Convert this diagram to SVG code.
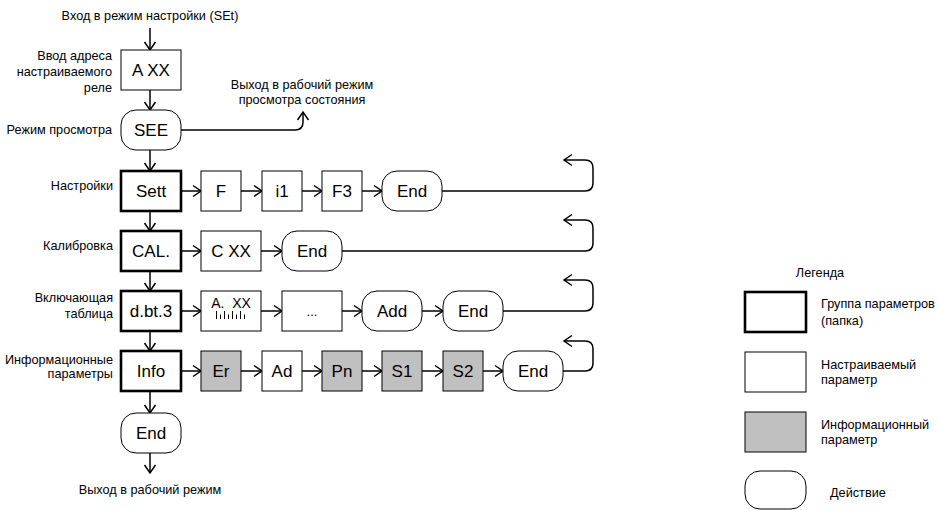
<svg xmlns="http://www.w3.org/2000/svg" width="938" height="510" viewBox="0 0 938 510">
<style>
  text { font-family: "Liberation Sans", Arial, sans-serif; fill: #000; }
  .lbl { font-size: 12.7px; }
  .lr { font-size: 12.7px; text-anchor: end; }
  .nt { font-size: 17px; text-anchor: middle; dominant-baseline: central; }
  .box { fill: #fff; stroke: #000; stroke-width: 1; }
  .grp { fill: #fff; stroke: #000; stroke-width: 2.6; }
  .inf { fill: #c0c0c0; stroke: #000; stroke-width: 1; }
  .act { fill: #fff; stroke: #000; stroke-width: 1; }
  .con { fill: none; stroke: #000; stroke-width: 1.5; marker-end: url(#arr); }
</style>
<defs>
  <marker id="arr" viewBox="-10 -7 12 14" refX="0" refY="0" markerWidth="12" markerHeight="14" markerUnits="userSpaceOnUse" orient="auto">
    <path d="M-8,-5.5 L0,0 L-8,5.5" fill="none" stroke="#000" stroke-width="1.5"/>
  </marker>
</defs>
<rect width="938" height="510" fill="#fff"/>

<text class="lbl" x="150" y="20" text-anchor="middle">Вход в режим настройки (SEt)</text>
<text class="lbl" x="150" y="494" text-anchor="middle">Выход в рабочий режим</text>
<text class="lbl" x="302" y="89" text-anchor="middle">Выход в рабочий режим</text>
<text class="lbl" x="302" y="104" text-anchor="middle">просмотра состояния</text>

<text class="lr" x="112" y="60">Ввод адреса</text>
<text class="lr" x="112" y="76">настраиваемого</text>
<text class="lr" x="112" y="92">реле</text>
<text class="lr" x="112" y="134">Режим просмотра</text>
<text class="lr" x="113" y="190">Настройки</text>
<text class="lr" x="113" y="250">Калибровка</text>
<text class="lr" x="113" y="302">Включающая</text>
<text class="lr" x="113" y="318">таблица</text>
<text class="lr" x="113" y="364">Информационные</text>
<text class="lr" x="113" y="378">параметры</text>

<g id="connectors">
  <path class="con" d="M150,28 V50"/>
  <path class="con" d="M150,90 V110"/>
  <path class="con" d="M150,150 V171"/>
  <path class="con" d="M150,211 V231"/>
  <path class="con" d="M150,271 V291"/>
  <path class="con" d="M150,331 V351"/>
  <path class="con" d="M150,391 V413"/>
  <path class="con" d="M150,453 V473"/>
  <path class="con" d="M181,130 H295 Q303,130 303,122 V112"/>
  <path class="con" d="M181,191 H201"/>
  <path class="con" d="M241,191 H262"/>
  <path class="con" d="M302,191 H322"/>
  <path class="con" d="M362,191 H382"/>
  <path class="con" d="M442,191 H585 Q593,191 593,183 V168 Q593,160 585,160 H564"/>
  <path class="con" d="M181,251 H201"/>
  <path class="con" d="M261,251 H282"/>
  <path class="con" d="M342,251 H585 Q593,251 593,243 V228 Q593,220 585,220 H564"/>
  <path class="con" d="M181,311 H201"/>
  <path class="con" d="M261,311 H282"/>
  <path class="con" d="M342,311 H362"/>
  <path class="con" d="M422,311 H443"/>
  <path class="con" d="M503,311 H585 Q593,311 593,303 V288 Q593,280 585,280 H564"/>
  <path class="con" d="M181,371 H201"/>
  <path class="con" d="M241,371 H262"/>
  <path class="con" d="M302,371 H322"/>
  <path class="con" d="M362,371 H382"/>
  <path class="con" d="M422,371 H443"/>
  <path class="con" d="M483,371 H503"/>
  <path class="con" d="M563,371 H585 Q593,371 593,363 V349 Q593,341 585,341 H564"/>
</g>

<g id="node-axx"><rect class="box" x="121" y="50" width="60" height="40"/><text class="nt" x="151" y="70">A XX</text></g>
<g id="node-see"><rect class="act" x="121" y="110" width="60" height="40" rx="15"/><text class="nt" x="151" y="130">SEE</text></g>
<g id="node-sett"><rect class="grp" x="121" y="171" width="60" height="40"/><text class="nt" x="151" y="191">Sett</text></g>
<g id="node-cal"><rect class="grp" x="121" y="231" width="60" height="40"/><text class="nt" x="151" y="251">CAL.</text></g>
<g id="node-dbt3"><rect class="grp" x="121" y="291" width="60" height="40"/><text class="nt" x="151" y="311">d.bt.3</text></g>
<g id="node-info"><rect class="grp" x="121" y="351" width="60" height="40"/><text class="nt" x="151" y="371">Info</text></g>
<g id="node-end-main"><rect class="act" x="121" y="413" width="60" height="40" rx="15"/><text class="nt" x="151" y="433">End</text></g>

<g id="node-f"><rect class="box" x="201" y="171" width="40" height="40"/><text class="nt" x="221" y="191">F</text></g>
<g id="node-i1"><rect class="box" x="262" y="171" width="40" height="40"/><text class="nt" x="282" y="191">i1</text></g>
<g id="node-f3"><rect class="box" x="322" y="171" width="40" height="40"/><text class="nt" x="342" y="191">F3</text></g>
<g id="node-end1"><rect class="act" x="382" y="171" width="60" height="40" rx="15"/><text class="nt" x="412" y="191">End</text></g>

<g id="node-cxx"><rect class="box" x="201" y="231" width="60" height="40"/><text class="nt" x="231" y="251">C XX</text></g>
<g id="node-end2"><rect class="act" x="282" y="231" width="60" height="40" rx="15"/><text class="nt" x="312" y="251">End</text></g>

<g id="node-axx-table"><rect class="box" x="201" y="291" width="60" height="40"/>
  <text x="231" y="308" font-size="14" text-anchor="middle" xml:space="preserve">A.  XX</text>
  <g stroke="#000" stroke-width="1">
    <line x1="216.5" y1="311" x2="216.5" y2="319"/><line x1="220.5" y1="314.5" x2="220.5" y2="319"/>
    <line x1="224.5" y1="311" x2="224.5" y2="319"/><line x1="228.5" y1="314.5" x2="228.5" y2="319"/>
    <line x1="232.5" y1="311" x2="232.5" y2="319"/><line x1="236.5" y1="314.5" x2="236.5" y2="319"/>
    <line x1="240.5" y1="311" x2="240.5" y2="319"/><line x1="244.5" y1="314.5" x2="244.5" y2="319"/>
  </g>
</g>
<g id="node-dots"><rect class="box" x="282" y="291" width="60" height="40"/><text x="312" y="316" font-size="13" text-anchor="middle">...</text></g>
<g id="node-add"><rect class="act" x="362" y="291" width="60" height="40" rx="15"/><text class="nt" x="392" y="311">Add</text></g>
<g id="node-end3"><rect class="act" x="443" y="291" width="60" height="40" rx="15"/><text class="nt" x="473" y="311">End</text></g>

<g id="node-er"><rect class="inf" x="201" y="351" width="40" height="40"/><text class="nt" x="221" y="371">Er</text></g>
<g id="node-ad"><rect class="box" x="262" y="351" width="40" height="40"/><text class="nt" x="282" y="371">Ad</text></g>
<g id="node-pn"><rect class="inf" x="322" y="351" width="40" height="40"/><text class="nt" x="342" y="371">Pn</text></g>
<g id="node-s1"><rect class="inf" x="382" y="351" width="40" height="40"/><text class="nt" x="402" y="371">S1</text></g>
<g id="node-s2"><rect class="inf" x="443" y="351" width="40" height="40"/><text class="nt" x="463" y="371">S2</text></g>
<g id="node-end4"><rect class="act" x="503" y="351" width="60" height="40" rx="15"/><text class="nt" x="533" y="371">End</text></g>

<g id="legend">
  <text class="lbl" x="820" y="277" text-anchor="middle">Легенда</text>
  <rect class="grp" x="745" y="292" width="61" height="40"/>
  <text class="lbl" x="821" y="308">Группа параметров</text>
  <text class="lbl" x="821" y="325">(папка)</text>
  <rect class="box" x="745" y="352" width="61" height="40"/>
  <text class="lbl" x="821" y="369">Настраиваемый</text>
  <text class="lbl" x="821" y="384">параметр</text>
  <rect class="inf" x="745" y="412" width="61" height="40"/>
  <text class="lbl" x="821" y="429">Информационный</text>
  <text class="lbl" x="821" y="444">параметр</text>
  <rect class="act" x="745" y="471" width="61" height="38" rx="15"/>
  <text class="lbl" x="830" y="497">Действие</text>
</g>
</svg>
